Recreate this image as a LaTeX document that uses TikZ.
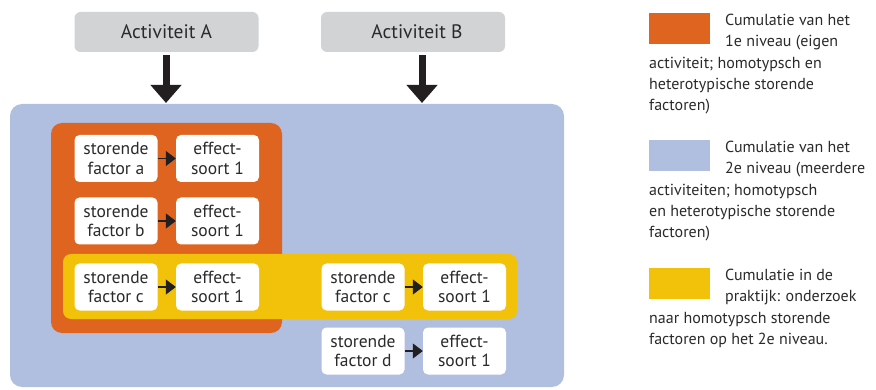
\documentclass[tikz,border=0pt]{standalone}
\usepackage{fontspec}
\setmainfont{PT Sans}
\usetikzlibrary{arrows.meta,calc}
\definecolor{actgray}{HTML}{D1D3D4}
\definecolor{lvlblue}{HTML}{B0BEE0}
\definecolor{lvlorange}{HTML}{DE6420}
\definecolor{lvlyellow}{HTML}{F2C10A}
\definecolor{arrowblack}{HTML}{231F20}
\definecolor{txt}{HTML}{2A2A2A}
\tikzset{
  actbox/.style={fill=actgray, rounded corners=6pt, minimum width=184pt, minimum height=40pt, inner sep=0pt, text=txt, font=\fontsize{19.5}{22}\selectfont},
  area/.style={inner sep=0pt},
  wbox/.style={fill=white, rounded corners=5pt, minimum width=83pt, minimum height=47pt, inner sep=0pt, align=center, text=txt, font=\fontsize{17.5}{19.5}\selectfont},
  bigarrow/.style={draw=arrowblack, line width=7pt, -{Triangle[length=18pt,width=30pt]}, arrowblack},
  smallarrow/.style={draw=arrowblack, line width=1.2pt, -{Triangle[length=10pt,width=15pt]}},
  swatch/.style={minimum width=61pt, minimum height=31pt, inner sep=0pt},
  legtext/.style={anchor=north west, align=left, inner sep=0pt, text=txt, font=\fontsize{16}{21.3}\selectfont}
}
\begin{document}
\begin{tikzpicture}[x=1pt,y=-1pt]
\useasboundingbox (0,0) rectangle (876,390);
% level areas
\node[area, fill=lvlblue, rounded corners=12pt, minimum width=554pt, minimum height=283pt] (blue) at (287,245.5) {};
\node[area, fill=lvlorange, rounded corners=11pt, minimum width=231pt, minimum height=210pt] (orange) at (166.5,228) {};
\node[area, fill=lvlyellow, rounded corners=8pt, minimum width=454pt, minimum height=65pt] (yellow) at (290,286.5) {};
% activities
\node[actbox] (A) at (166.5,32) {Activiteit A};
\node[actbox] (B) at (413,32) {\hspace*{8pt}Activiteit B};
\coordinate (at) at (166,103);
\coordinate (bt) at (422,103);
\draw[bigarrow, shorten <=3pt, shorten >=0pt] (at |- A.south) -- (at);
\draw[bigarrow, shorten <=3pt, shorten >=0pt] (bt |- B.south) -- (bt);
% factor boxes
\node[wbox] (fa) at (116,158.5) {storende\\factor a};
\node[wbox] (ea) at (217.5,158.5) {effect-\\soort 1};
\node[wbox] (fb) at (116,221) {storende\\factor b};
\node[wbox] (eb) at (217.5,221) {effect-\\soort 1};
\node[wbox] (fc) at (116,287) {storende\\factor c};
\node[wbox] (ec) at (217.5,287) {effect-\\soort 1};
\node[wbox] (fc2) at (363,287) {storende\\factor c};
\node[wbox] (ec2) at (464.5,287) {effect-\\soort 1};
\node[wbox] (fd) at (363,351) {storende\\factor d};
\node[wbox] (ed) at (464.5,351) {effect-\\soort 1};
\draw[smallarrow] (fa) -- (ea);
\draw[smallarrow] (fb) -- (eb);
\draw[smallarrow] (fc) -- (ec);
\draw[smallarrow] (fc2) -- (ec2);
\draw[smallarrow] (fd) -- (ed);
% legend
\node[swatch, fill=lvlorange, anchor=north west] (s1) at (649,13) {};
\node[swatch, fill=lvlblue, anchor=north west] (s2) at (649,140) {};
\node[swatch, fill=lvlyellow, anchor=north west] (s3) at (649,268) {};
\node[legtext] (l1) at (649,14) {\hspace*{76pt}Cumulatie van het\\\hspace*{76pt}1e niveau (eigen\\activiteit; homotypsch en\\heterotypische storende\\factoren)};
\node[legtext] (l2) at (649,141) {\hspace*{76pt}Cumulatie van het\\\hspace*{76pt}2e niveau (meerdere\\activiteiten; homotypsch\\en heterotypische storende\\factoren)};
\node[legtext] (l3) at (649,269) {\hspace*{76pt}Cumulatie in de\\\hspace*{76pt}praktijk: onderzoek\\naar homotypsch storende\\factoren op het 2e niveau.};
\end{tikzpicture}
\end{document}
